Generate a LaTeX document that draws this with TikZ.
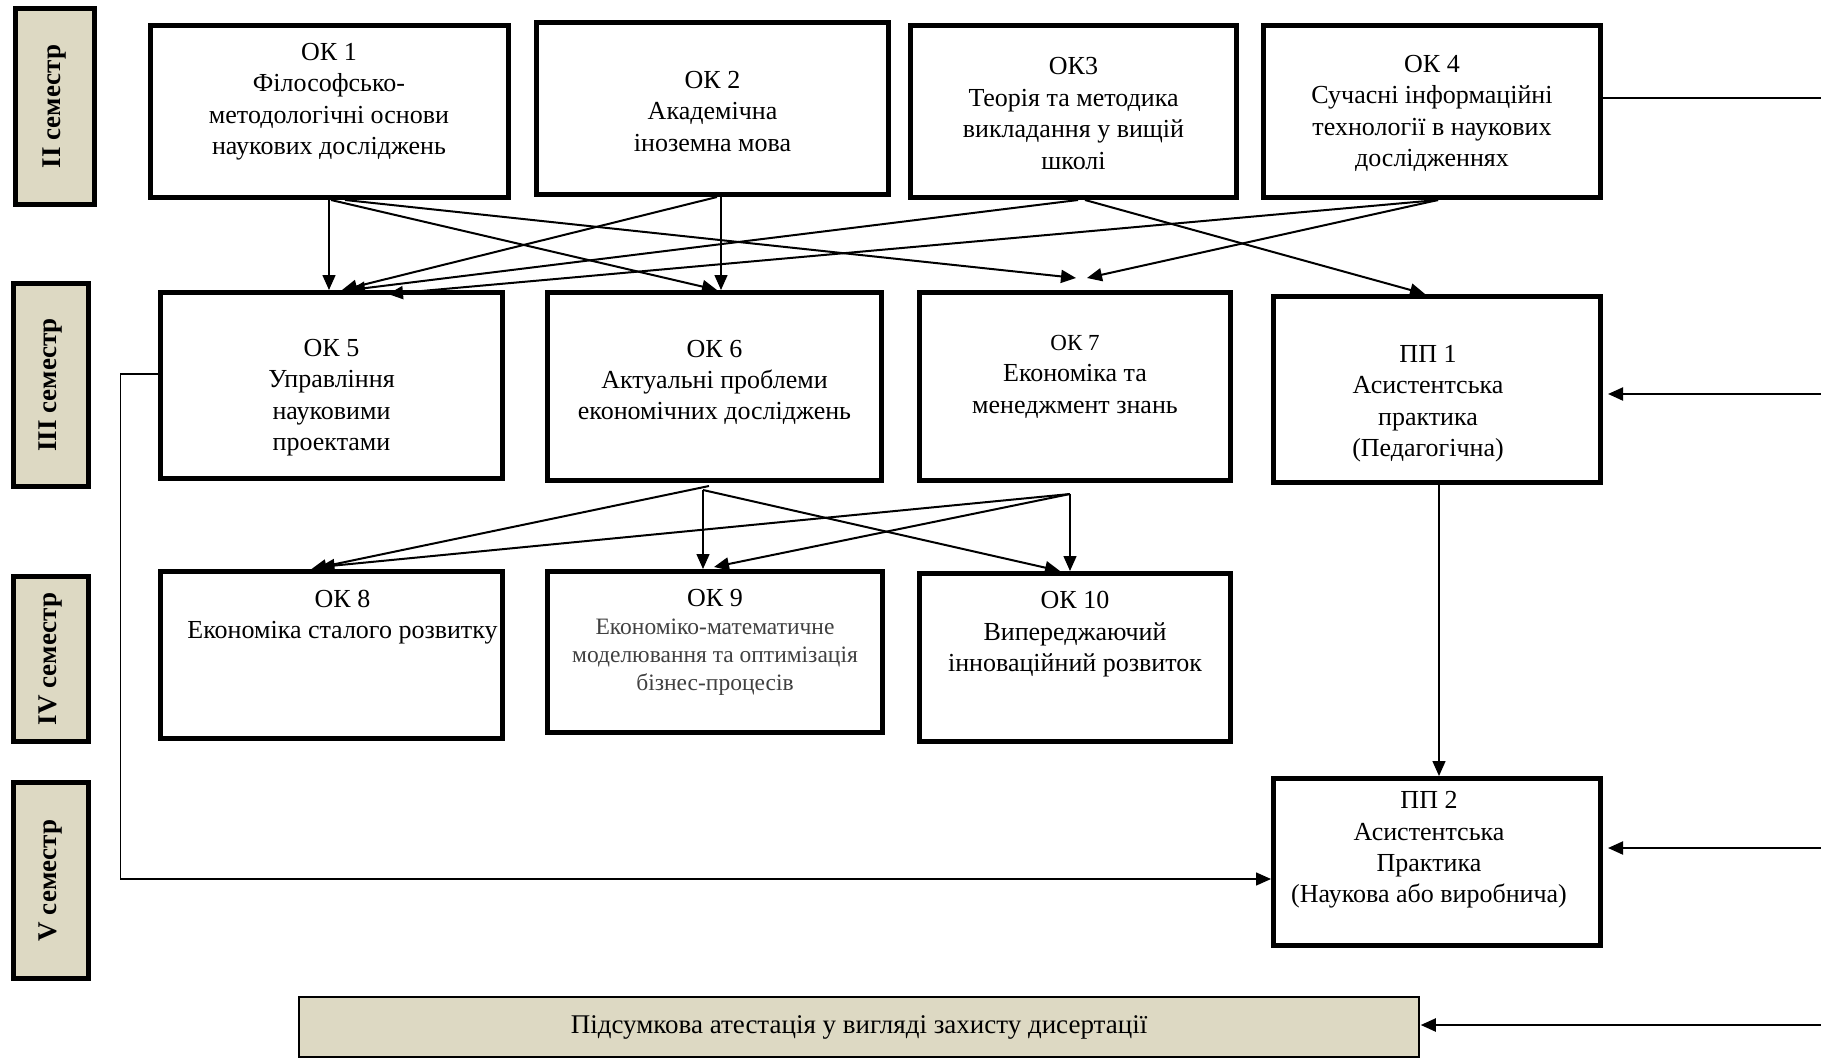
\documentclass[tikz,border=0pt]{standalone}
\usepackage{fontspec}
\setmainfont{Liberation Serif}
\usetikzlibrary{arrows.meta,positioning}
\definecolor{tan}{HTML}{DDD9C3}

\begin{document}
\begin{tikzpicture}[x=1pt, y=-1pt,
  box/.style={draw, line width=5pt, inner sep=0pt},
  sem/.style={draw, line width=5pt, fill=tan, inner sep=0pt, rotate=90,
    font=\fontsize{27}{32}\selectfont\bfseries},
  txt/.style={align=center, font=\fontsize{26}{31.4}\selectfont},
  link/.style={line width=2pt, -{Triangle[length=15pt,width=13pt]}},
  vlink/.style={line width=1.5pt, -{Triangle[length=15pt,width=13pt]}}]
\useasboundingbox (0,0) rectangle (1821,1060);

% semesters
\node[sem, minimum width=196pt, minimum height=79pt] (s2) at (55,106.5) {II семестр};
\node[sem, minimum width=203pt, minimum height=75pt] (s3) at (51,385) {III семестр};
\node[sem, minimum width=165pt, minimum height=75pt] (s4) at (51,659) {IV семестр};
\node[sem, minimum width=196pt, minimum height=75pt] (s5) at (51,880.5) {V семестр};

% II semester
\node[box, minimum width=358pt, minimum height=172pt] (ok1) at (329,111.5) {};
\node[txt] (ok1t) at ([yshift=10pt]ok1.center) {ОК 1\\Філософсько-\\методологічні основи\\наукових досліджень};
\node[box, minimum width=352pt, minimum height=172pt] (ok2) at (712.5,108.5) {};
\node[txt] (ok2t) at ([yshift=-3pt]ok2.center) {ОК 2\\Академічна\\іноземна мова};
\node[box, minimum width=326pt, minimum height=172pt] (ok3) at (1073.5,111.5) {};
\node[txt] (ok3t) at ([yshift=-2pt]ok3.center) {ОК3\\Теорія та методика\\викладання у вищій\\школі};
\node[box, minimum width=337pt, minimum height=172pt] (ok4) at (1432,111.5) {};
\node[txt] (ok4t) at ([yshift=-2pt]ok4.center) {ОК 4\\Сучасні інформаційні\\технології в наукових\\дослідженнях};

% III semester
\node[box, minimum width=342pt, minimum height=186pt] (ok5) at (331.5,385.5) {};
\node[txt] (ok5t) at ([yshift=-12pt]ok5.center) {ОК 5\\Управління\\науковими\\проектами};
\node[box, minimum width=334pt, minimum height=188pt] (ok6) at (714.5,386.5) {};
\node[txt] (ok6t) at ([yshift=4pt]ok6.center) {ОК 6\\Актуальні проблеми\\економічних досліджень};
\node[box, minimum width=311pt, minimum height=188pt] (ok7) at (1075,386.5) {};
\node[txt] (ok7t) at ([yshift=10pt]ok7.center) {{\fontsize{23}{28}\selectfont ОК 7}\\Економіка та\\менеджмент знань};
\node[box, minimum width=327pt, minimum height=186pt] (pp1) at (1437,389.5) {};
\node[txt] (pp1t) at ([xshift=-9pt,yshift=-14pt]pp1.center) {ПП 1\\Асистентська\\практика\\(Педагогічна)};

% IV semester
\node[box, minimum width=342pt, minimum height=167pt] (ok8) at (331.5,655) {};
\node[txt] (ok8t) at ([xshift=11pt,yshift=38pt]ok8.center) {ОК 8\\Економіка сталого розвитку};
\node[box, minimum width=335pt, minimum height=161pt] (ok9) at (715,652) {};
\node[txt, font=\fontsize{23.5}{28}\selectfont, text=black!75] (ok9t) at ([yshift=10pt]ok9.center)
  {{\color{black}\fontsize{26}{31.4}\selectfont ОК 9}\\Економіко-математичне\\моделювання та оптимізація\\бізнес-процесів};
\node[box, minimum width=311pt, minimum height=168pt] (ok10) at (1075,657.5) {};
\node[txt] (ok10t) at ([yshift=23pt]ok10.center) {ОК 10\\Випереджаючий\\інноваційний розвиток};

% V semester
\node[box, minimum width=327pt, minimum height=167pt] (pp2) at (1437,862) {};
\node[txt] (pp2t) at ([xshift=-8pt,yshift=12pt]pp2.center) {ПП 2\\Асистентська\\Практика\\(Наукова або виробнича)};

\node[draw, line width=1.5pt, fill=tan, minimum width=1120pt, minimum height=60pt,
  font=\fontsize{27}{32}\selectfont] (fin) at (859,1027) {Підсумкова атестація у вигляді захисту дисертації};

% II -> III
\draw[vlink] (ok1.south) -- (ok1.south |- ok5.north);
\draw[link] ([xshift=2pt]ok1.south) -- ([xshift=2.5pt]ok6.north);
\draw[link] ([xshift=16pt]ok1.south) -- ([xshift=1pt,yshift=12pt]ok7.north);
\draw[vlink] ([xshift=8.5pt]ok2.south) -- ([xshift=6.5pt]ok6.north);
\draw[link] ([xshift=4.5pt]ok2.south) -- ([xshift=10.5pt]ok5.north);
\draw[link] ([xshift=4.5pt]ok3.south) -- ([xshift=18.5pt]ok5.north);
\draw[link] ([xshift=11.5pt]ok3.south) -- ([xshift=-12pt]pp1.north);
\draw[link] ([xshift=6pt]ok4.south) -- ([xshift=56.5pt,yshift=-4pt]ok5.north);
\draw[link] ([xshift=6pt]ok4.south) -- ([xshift=12pt,yshift=12pt]ok7.north);

% III -> IV
\draw[vlink] ([xshift=-11.5pt,yshift=-7pt]ok6.south) -- ([xshift=-12pt]ok9.north);
\draw[link] ([xshift=-5.5pt,yshift=-3pt]ok6.south) -- ([xshift=-20pt]ok8.north);
\draw[link] ([xshift=-11.5pt,yshift=-7pt]ok6.south) -- ([xshift=-15pt]ok10.north);
\draw[vlink] ([xshift=-5pt,yshift=-11pt]ok7.south) -- ([xshift=-5pt]ok10.north);
\draw[link] ([xshift=-5pt,yshift=-11pt]ok7.south) -- ([xshift=-12pt,yshift=2pt]ok8.north);
\draw[link] ([xshift=-5pt,yshift=-11pt]ok7.south) -- ([xshift=-1pt,yshift=2pt]ok9.north);

% practice
\draw[vlink] ([xshift=2pt]pp1.south) -- ([xshift=2pt]pp2.north);
\draw[vlink] ([yshift=11.5pt]ok5.west) -- ++(-37.5,0) |- ([yshift=-17pt]pp2.west);

% right side
\coordinate (r1) at (1821,97.5);
\coordinate (r2) at (1821,394);
\coordinate (r3) at (1821,848);
\coordinate (r4) at (1821,1025);
\draw[line width=2pt] ([yshift=14pt]ok4.east) -- (r1);
\draw[link] (r2) -- ([xshift=5pt,yshift=-4.5pt]pp1.east);
\draw[link] (r3) -- ([xshift=5pt,yshift=14pt]pp2.east);
\draw[link] (r4) -- ([xshift=1pt,yshift=2pt]fin.east);
\end{tikzpicture}
\end{document}
